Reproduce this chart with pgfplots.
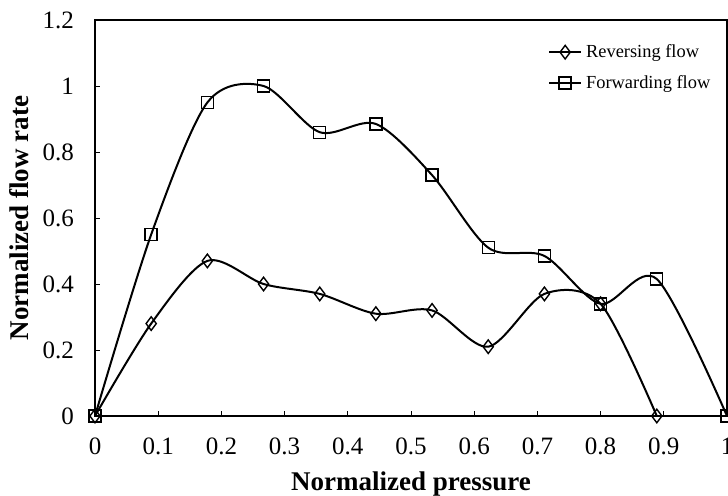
\documentclass[border=0pt]{standalone}
\usepackage{fontspec}
\setmainfont{Liberation Serif}
\usepackage{pgfplots}
\pgfplotsset{compat=1.18}

\begin{document}
\begin{tikzpicture}
\begin{axis}[
  name=ax,
  scale only axis,
  width=316bp, height=198bp,
  xmin=0, xmax=1, ymin=0, ymax=1.2,
  xtick={0,0.1,...,1.01}, ytick={0,0.2,...,1.21},
  xticklabels={0,0.1,0.2,0.3,0.4,0.5,0.6,0.7,0.8,0.9,1},
  yticklabels={0,0.2,0.4,0.6,0.8,1,1.2},
  xtick pos=bottom, ytick pos=left,
  tick align=inside, major tick length=2.5bp,
  axis line style={line width=1bp},
  tick style={line width=0.5bp, black},
  ticklabel style={font=\fontsize{12.5bp}{14bp}\selectfont},
  yticklabel style={xshift=-7bp},
  xticklabel style={yshift=-7.5bp},
  xlabel={\textbf{Normalized pressure}},
  ylabel={\textbf{Normalized flow rate}},
  label style={font=\fontsize{13.5bp}{15bp}\selectfont},
  xlabel style={yshift=-1.5bp},
  legend style={draw=none, fill=none, at={(0.99,0.96)}, anchor=north east,
    font=\fontsize{9.2bp}{11bp}\selectfont, row sep=3.5bp,
    /tikz/every even column/.append style={column sep=2bp}},
  legend cell align=left,
  legend image code/.code={
    \draw[#1] (0bp,0bp) -- (8bp,0bp) plot coordinates {(8bp,0bp)} -- (16bp,0bp);},
]
\addplot[black, line width=1bp, smooth, tension=0.5,
  mark=diamond, mark size=3.4bp, mark options={solid, fill=white, line width=0.7bp}]
  coordinates {(0,0) (0.0889,0.28) (0.1778,0.47) (0.2667,0.40) (0.3556,0.37)
  (0.4444,0.31) (0.5333,0.32) (0.6222,0.21) (0.7111,0.37) (0.8,0.34) (0.8889,0)};
\addlegendentry{Reversing flow}
\addplot[black, line width=1bp, smooth, tension=0.5,
  mark=square, mark size=3bp, mark options={solid, fill=none, line width=0.7bp}]
  coordinates {(0,0) (0.0889,0.55) (0.1778,0.95) (0.2667,1.0) (0.3556,0.86)
  (0.4444,0.885) (0.5333,0.73) (0.6222,0.51) (0.7111,0.485) (0.8,0.34)
  (0.8889,0.415) (1,0)};
\addlegendentry{Forwarding flow}
\end{axis}
\pgfresetboundingbox
\path[use as bounding box] ([xshift=-47.5bp,yshift=-40bp]ax.south west)
  rectangle ([xshift=0.5bp,yshift=10bp]ax.north east);
\end{tikzpicture}
\end{document}
